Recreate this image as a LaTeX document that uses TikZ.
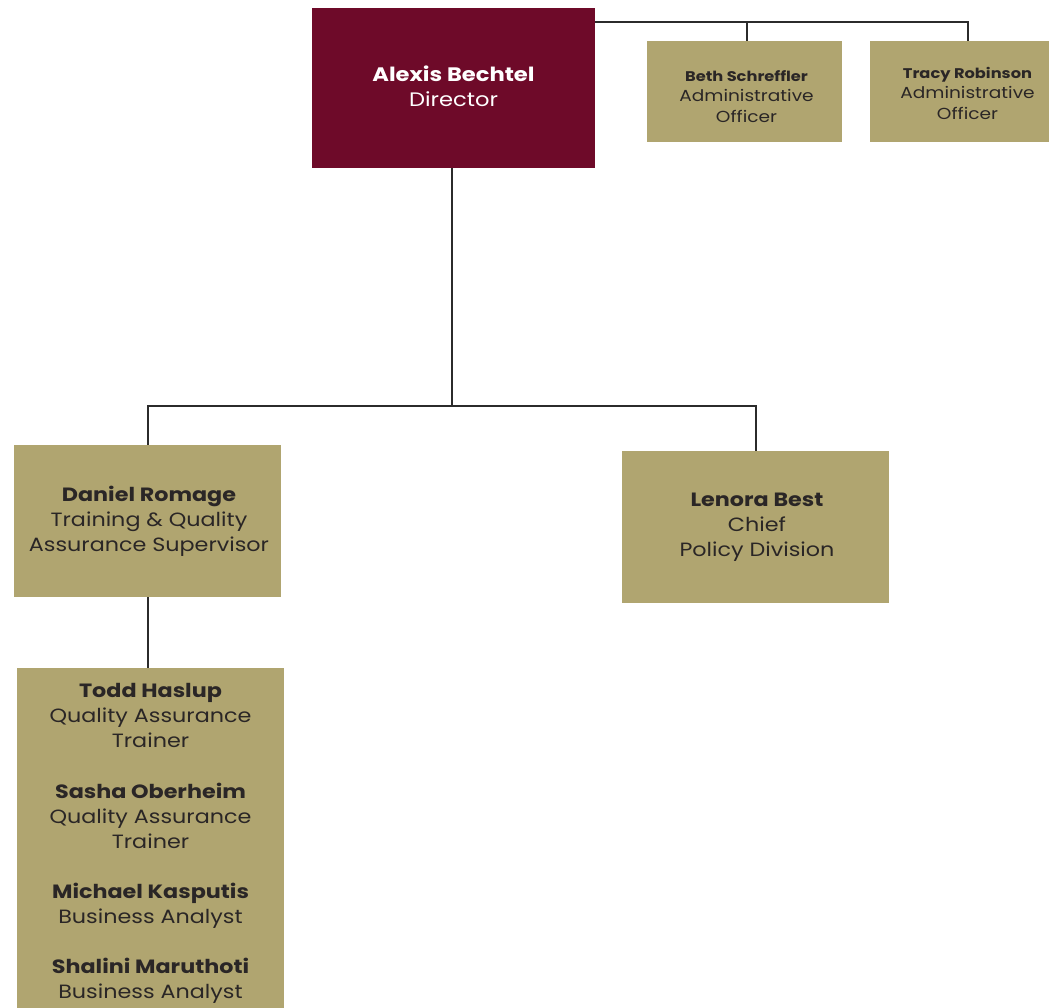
\documentclass[tikz,border=0pt]{standalone}
\usepackage{fontspec}
\setmainfont{Poppins}[FakeStretch=1.16]
\definecolor{maroon}{HTML}{6E0A29}
\definecolor{gold}{HTML}{B0A570}
\definecolor{ink}{HTML}{2A2626}
\definecolor{wire}{HTML}{2B2B2B}
\begin{document}
\begin{tikzpicture}[x=1pt,y=-1pt,
  box/.style={rectangle, inner sep=0pt, fill=gold},
  txt/.style={inner sep=0pt, align=center, text=ink},
  bigtxt/.style={txt, font=\fontsize{19.2}{25}\selectfont},
  smalltxt/.style={txt, font=\fontsize{16}{20.5}\selectfont},
  wirel/.style={draw=wire, line width=2pt}]
\useasboundingbox (0,0) rectangle (1049,1007);
\fill[white] (0,0) rectangle (1049,1007);
% boxes
\node[box, fill=maroon, minimum width=283pt, minimum height=160pt] (dir) at (453.5,88) {};
\node[box, minimum width=195pt, minimum height=101pt] (beth) at (744.5,91.5) {};
\node[box, minimum width=195pt, minimum height=101pt] (tracy) at (967.5,91.5) {};
\node[box, minimum width=267pt, minimum height=152pt] (dan) at (147.5,521) {};
\node[box, minimum width=267pt, minimum height=152pt] (len) at (755.5,527) {};
\node[box, minimum width=267pt, minimum height=345pt, anchor=north] (team) at (150.5,668) {};
% texts
\node[bigtxt, text=white, font=\fontsize{19.5}{25}\selectfont] (dirtxt) at ([yshift=2pt]dir.center)
  {\textbf{Alexis Bechtel}\\Director};
\node[smalltxt] (bethtxt) at ([yshift=-5pt,xshift=2pt]beth.center)
  {\textbf{\fontsize{14}{20.5}\selectfont Beth Schreffler}\\Administrative\\Officer};
\node[smalltxt] (tracytxt) at ([yshift=-1.5pt]tracy.center)
  {\textbf{\fontsize{14}{20.5}\selectfont Tracy Robinson}\\Administrative\\Officer};
\node[bigtxt] (dantxt) at ([xshift=1.5pt]dan.center)
  {\textbf{Daniel Romage}\\Training \& Quality\\Assurance Supervisor};
\node[bigtxt] (lentxt) at ([xshift=1.5pt]len.center)
  {\textbf{Lenora Best}\\Chief\\Policy Division};
\node[bigtxt, anchor=north] (teamtxt) at ([yshift=-15pt]team.north)
  {\textbf{Todd Haslup}\\Quality Assurance\\Trainer\\[26pt]
   \textbf{Sasha Oberheim}\\Quality Assurance\\Trainer\\[25pt]
   \textbf{Michael Kasputis}\\Business Analyst\\[25pt]
   \textbf{Shalini Maruthoti}\\Business Analyst};
% connectors
\draw[wirel] ([yshift=-14.5pt]dir.north east) coordinate (t) -| (tracy.north);
\draw[wirel] (t) -| ([xshift=2.5pt]beth.north);
\draw[wirel] ([xshift=-1.5pt]dir.south) -- ([xshift=-1.5pt]dir.south |- 0,406) coordinate (bar);
\draw[wirel] (dan.north) |- (bar) -| (len.north);
\draw[wirel] (dan.south) -- (dan.south |- team.north);
\end{tikzpicture}
\end{document}
